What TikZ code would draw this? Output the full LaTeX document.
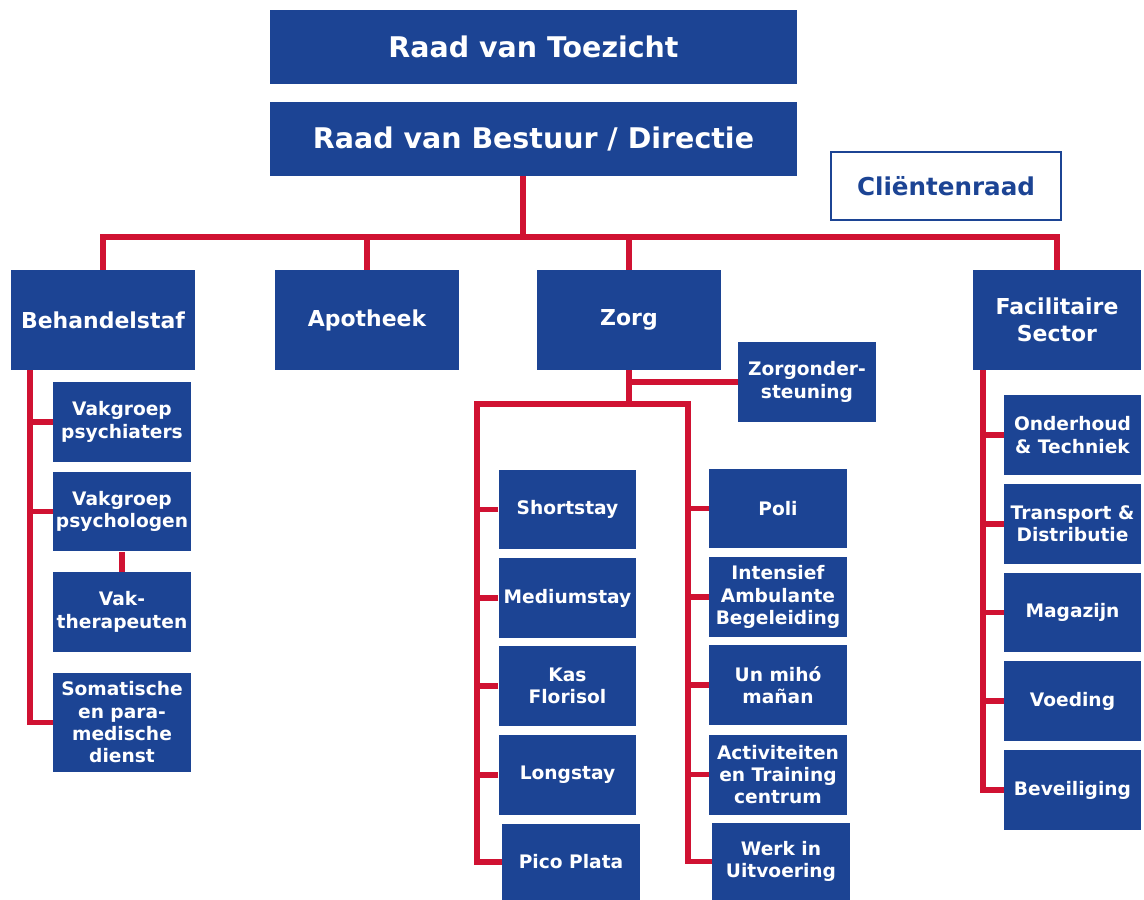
\documentclass[tikz,border=0pt]{standalone}
\usepackage{fontspec}
\setmainfont{DejaVu Sans}
\usepackage{tikz}
\usetikzlibrary{calc}

\definecolor{orgblue}{RGB}{28,68,148}
\definecolor{orgred}{RGB}{208,18,50}

\tikzset{
    topbox/.style={fill=orgblue, text=white, inner sep=0pt, align=center,
        minimum width=10.54cm, minimum height=1.48cm, font=\bfseries\fontsize{16.2}{19}\selectfont},
    headbox/.style={fill=orgblue, text=white, inner sep=0pt, align=center,
        minimum width=3.68cm, minimum height=2cm, font=\bfseries\fontsize{12.5}{15.3}\selectfont},
    unitbox/.style={fill=orgblue, text=white, inner sep=0pt, align=center,
        minimum width=2.76cm, minimum height=1.6cm, font=\bfseries\fontsize{10.6}{12.7}\selectfont},
    redline/.style={draw=orgred, line width=3.4pt}
}

\begin{document}
\begin{tikzpicture}[x=0.02cm, y=-0.02cm]
        \useasboundingbox (0,0) rectangle (1144,900);

        % top
        \node[topbox] (toezicht) at (533.5,47) {Raad van Toezicht};
        \node[topbox] (bestuur) at (533.5,139) {Raad van Bestuur / Directie};
        \node[draw=orgblue, line width=1.2pt, text=orgblue, minimum width=4.6cm, minimum height=1.36cm,
            font=\bfseries\fontsize{14}{16}\selectfont] (client) at (946,186) {Cliëntenraad};

        % afdelingen
        \node[headbox] (behandel) at (103,320) {Behandelstaf};
        \node[headbox] (apotheek) at (367,320) {Apotheek};
        \node[headbox] (zorg) at (629,320) {Zorg};
        \node[headbox, minimum width=3.36cm] (facil) at (1057,320) {Facilitaire\\Sector};

        % behandelstaf
        \node[unitbox] (psychiaters) at (122,422) {Vakgroep\\psychiaters};
        \node[unitbox] (psychologen) at (122,511.5) {Vakgroep\\psychologen};
        \node[unitbox] (therapeuten) at (122,612) {Vak-\\therapeuten};
        \node[unitbox, minimum height=1.98cm] (somatisch) at (122,722.5) {Somatische\\en para-\\medische\\dienst};

        % zorg
        \node[unitbox] (zondersteuning) at (807,382) {Zorgonder-\\steuning};
        \node[unitbox] (shortstay) at (567.5,509.5) {Shortstay};
        \node[unitbox] (mediumstay) at (567.5,598) {Mediumstay};
        \node[unitbox] (kas) at (567.5,686) {Kas\\Florisol};
        \node[unitbox] (longstay) at (567.5,775) {Longstay};
        \node[unitbox, minimum height=1.52cm] (pico) at (571,862) {Pico Plata};
        \node[unitbox] (poli) at (778,508.5) {Poli};
        \node[unitbox] (intensief) at (778,597) {Intensief\\Ambulante\\Begeleiding};
        \node[unitbox] (miho) at (778,685) {Un mihó\\mañan};
        \node[unitbox] (activiteiten) at (778,774.5) {Activiteiten\\en Training\\centrum};
        \node[unitbox, minimum height=1.54cm] (werk) at (781,861.5) {Werk in\\Uitvoering};

        % facilitaire sector
        \node[unitbox, minimum width=2.74cm] (onderhoud) at (1072.5,435) {Onderhoud\\\& Techniek};
        \node[unitbox, minimum width=2.74cm] (transport) at (1072.5,524) {Transport \&\\Distributie};
        \node[unitbox, minimum width=2.74cm] (magazijn) at (1072.5,612.5) {Magazijn};
        \node[unitbox, minimum width=2.74cm] (voeding) at (1072.5,701) {Voeding};
        \node[unitbox, minimum width=2.74cm] (beveiliging) at (1072.5,790) {Beveiliging};

        % lijnen
        \coordinate (bus) at (523,237);
        \coordinate (bcol) at (30,370);
        \coordinate (lcol) at (477,404);
        \coordinate (rcol) at (688,404);
        \coordinate (fcol) at (983,370);

        \draw[redline] (bestuur.south -| bus) -- (bus);
        \draw[redline] (behandel.north) |- (bus) -| (facil.north);
        \draw[redline] (apotheek.north) -- (apotheek.north |- bus);
        \draw[redline] (zorg.north) -- (zorg.north |- bus);

        \draw[redline] (bcol) |- (somatisch.west);
        \draw[redline] (psychiaters.west) -- (psychiaters.west -| bcol);
        \draw[redline] (psychologen.west) -- (psychologen.west -| bcol);
        \draw[redline] (psychologen.south) -- (therapeuten.north);

        \draw[redline] (zorg.south) |- (zondersteuning.west);
        \draw[redline] (zorg.south) -- (zorg.south |- lcol);
        \draw[redline] (pico.west) -| (lcol) -- (rcol) |- (werk.west);
        \foreach \n in {shortstay, mediumstay, kas, longstay}
            \draw[redline] (\n.west) -- (\n.west -| lcol);
        \foreach \n in {poli, intensief, miho, activiteiten}
            \draw[redline] (\n.west) -- (\n.west -| rcol);

        \draw[redline] (fcol) |- (beveiliging.west);
        \foreach \n in {onderhoud, transport, magazijn, voeding}
            \draw[redline] (\n.west) -- (\n.west -| fcol);
    \end{tikzpicture}
\end{document}
